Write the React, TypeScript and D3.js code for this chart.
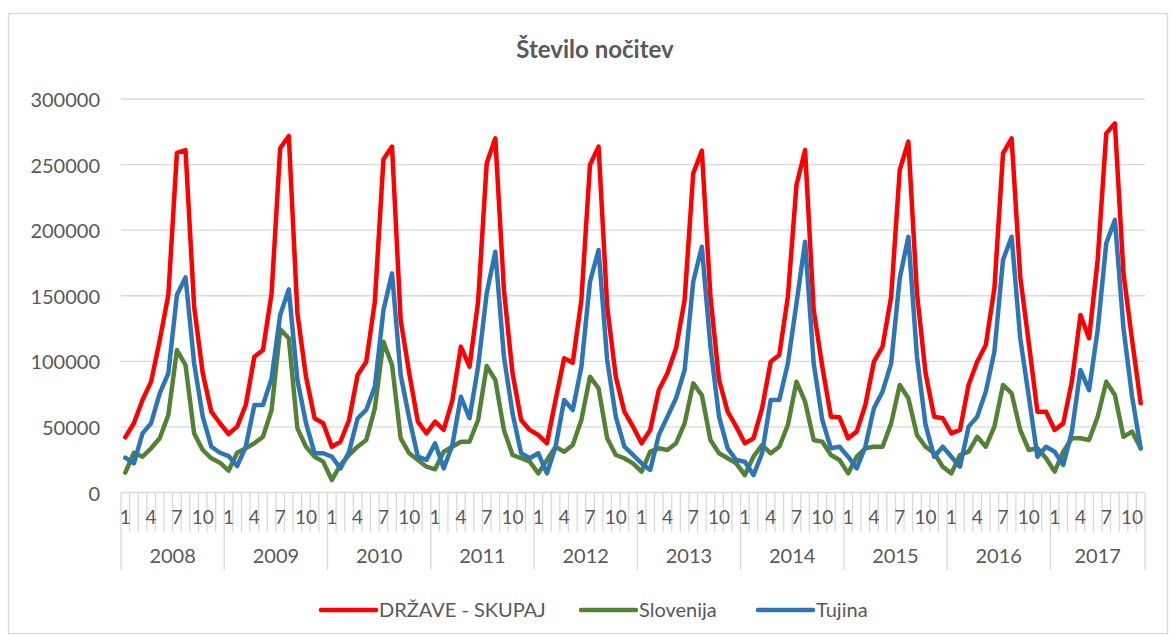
import React from 'react';
import * as d3 from 'd3';

// monthly values 2008-01 .. 2017-11
const years = ['2008', '2009', '2010', '2011', '2012', '2013', '2014', '2015', '2016', '2017'];
const monthsPerYear = [12, 12, 12, 12, 12, 12, 12, 12, 12, 11];

const skupaj = [
  42100, 52800, 70500, 84500, 116000, 150500, 259000, 261000, 141600, 90900, 61600, 52800,
  44600, 50200, 66700, 103500, 108600, 151900, 262400, 271800, 136600, 88300, 56600, 52800,
  34900, 38700, 55300, 89600, 99700, 145500, 254000, 263700, 131500, 90900, 54000, 45100,
  54000, 47700, 70000, 111200, 95900, 145500, 251000, 270000, 154400, 90900, 55300, 47700,
  43800, 37500, 70500, 102300, 99000, 146800, 249700, 263700, 141700, 88300, 61600, 50200,
  37500, 47600, 78100, 90900, 109900, 146800, 243300, 260600, 149300, 85800, 61600, 50200,
  37500, 41300, 64200, 99700, 104800, 149300, 234400, 261100, 139100, 95900, 57800, 57300,
  41300, 46400, 66700, 99700, 111200, 149300, 245900, 267500, 151900, 90900, 57800, 56600,
  45100, 47700, 82000, 99700, 112500, 155700, 258600, 270000, 164500, 113700, 61600, 61600,
  47700, 52700, 84500, 135300, 117600, 177300, 273800, 281400, 167100, 116300, 68000,
];

const slovenija = [
  15100, 30300, 27300, 33700, 41300, 59100, 108600, 97200, 45100, 32400, 26100, 22700,
  16600, 30300, 33700, 37500, 42500, 62900, 124400, 117600, 48900, 34900, 27300, 23500,
  9500, 21000, 28600, 34900, 40000, 64200, 115000, 97200, 41300, 29900, 24800, 19700,
  17700, 31100, 34900, 38700, 38700, 55300, 96400, 85800, 47700, 28600, 26100, 23500,
  14600, 24800, 34900, 31100, 36200, 55300, 88300, 79400, 41300, 28600, 26100, 22200,
  15900, 31100, 33700, 32400, 37500, 52700, 83200, 74300, 40000, 29900, 26100, 22200,
  13300, 27300, 36200, 29900, 34900, 51500, 84500, 69200, 40000, 38700, 28600, 24800,
  14600, 27300, 33700, 34900, 34900, 52700, 82000, 71800, 43800, 34900, 29900, 19700,
  14600, 28600, 31100, 42500, 34900, 50200, 82000, 75600, 47700, 32400, 33700, 26100,
  15900, 31100, 41300, 41300, 40000, 57800, 84500, 74300, 42500, 46400, 33700,
];

const tujina = [
  26500, 22200, 45100, 52800, 75600, 90900, 150500, 164000, 98500, 57800, 34900, 30300,
  27800, 20200, 34900, 66700, 66700, 87000, 135300, 154900, 85800, 52800, 29900, 29900,
  27300, 18400, 31100, 56600, 62900, 80700, 139100, 167100, 89600, 56600, 27300, 24800,
  37500, 18400, 36000, 73000, 56600, 95900, 151900, 183600, 103500, 60400, 29900, 26100,
  29900, 14600, 34900, 70500, 62900, 95900, 160700, 184900, 101000, 57800, 34900, 28600,
  22200, 17200, 43800, 57800, 71800, 93400, 160700, 187400, 111200, 57800, 33700, 24800,
  23500, 13300, 29900, 70500, 70500, 98500, 144200, 191200, 98500, 55300, 33700, 34900,
  27300, 18400, 34900, 64200, 76900, 98500, 163300, 195000, 103500, 51500, 27300, 34900,
  27300, 19700, 50200, 57800, 76900, 107400, 177300, 195000, 117600, 73100, 27300, 34900,
  31100, 21000, 46400, 93400, 78100, 123900, 190000, 207800, 125200, 73100, 33700,
];

const yTicks = [0, 50000, 100000, 150000, 200000, 250000, 300000];

const series = [
  { name: 'DRŽAVE - SKUPAJ', values: skupaj, color: '#ff0000' },
  { name: 'Slovenija', values: slovenija, color: '#548235' },
  { name: 'Tujina', values: tujina, color: '#2e75b6' },
];

const W = 1170;
const H = 636;
const FONT = 'Lato, "Open Sans", sans-serif';
const TEXT = '#595959';
const GRID = '#d9d9d9';

export default function App() {
  // category list: one entry per month
  const cats: { year: string; month: number }[] = [];
  years.forEach((y, yi) => {
    for (let m = 1; m <= monthsPerYear[yi]; m++) cats.push({ year: y, month: m });
  });

  const x = d3.scaleBand<number>()
    .domain(cats.map((_, i) => i))
    .range([121, 1145]);
  const bw = x.bandwidth();
  const cx = (i: number) => (x(i) || 0) + bw / 2;

  const y = d3.scaleLinear().domain([0, 300000]).range([492.5, 99]);

  const line = d3.line<number>()
    .x((_, i) => cx(i))
    .y(d => y(d));

  // year spans
  let start = 0;
  const spans = years.map((yr, yi) => {
    const s = start;
    start += monthsPerYear[yi];
    return { year: yr, from: s, to: start };
  });
  const edge = (i: number) => (i >= cats.length ? 1145 : (x(i) || 0));

  const legendX = [321, 581, 758];

  return (
    <svg width={W} height={H} style={{ position: 'absolute', left: 0, top: 0, background: '#fff' }}
      fontFamily={FONT}>
      <rect x={8.5} y={13.5} width={1159} height={620} fill="#fff" stroke={GRID} strokeWidth={1.3} />

      <text x={595} y={58} textAnchor="middle" fontSize={24} fontWeight="bold" fill={TEXT}>
        Število nočitev
      </text>

      {/* gridlines + y labels */}
      {yTicks.map(t => (
        <g key={t}>
          <line x1={121} x2={1145} y1={y(t)} y2={y(t)} stroke={GRID} strokeWidth={1.3} />
          <text x={100} y={y(t)} textAnchor="end" dominantBaseline="central" fontSize={20} fill={TEXT}>
            {t}
          </text>
        </g>
      ))}

      {/* category ticks */}
      {d3.range(cats.length + 1).map(i => {
        const isYear = i === cats.length || cats[i].month === 1;
        return (
          <line key={'t' + i} x1={edge(i)} x2={edge(i)} y1={492.5} y2={isYear ? 570 : 532}
            stroke={GRID} strokeWidth={1.3} />
        );
      })}

      {cats.map((c, i) => (c.month - 1) % 3 === 0 ? (
        <text key={'m' + i} x={cx(i)} y={516} textAnchor="middle" dominantBaseline="central"
          fontSize={19} fill={TEXT}>{c.month}</text>
      ) : null)}

      {spans.map(s => (
        <text key={s.year} x={(edge(s.from) + edge(s.to)) / 2} y={555} textAnchor="middle"
          dominantBaseline="central" fontSize={20} fill={TEXT}>{s.year}</text>
      ))}

      {series.map(s => (
        <path key={s.name} d={line(s.values) || ''} fill="none" stroke={s.color} strokeWidth={4.5}
          strokeLinejoin="round" strokeLinecap="round" />
      ))}

      {series.map((s, k) => (
        <g key={'lg' + k}>
          <line x1={legendX[k]} x2={legendX[k] + 55} y1={610} y2={610} stroke={s.color}
            strokeWidth={4.5} strokeLinecap="round" />
          <text x={legendX[k] + 58} y={609} dominantBaseline="central" fontSize={20} fill={TEXT}>
            {s.name}
          </text>
        </g>
      ))}
    </svg>
  );
}
